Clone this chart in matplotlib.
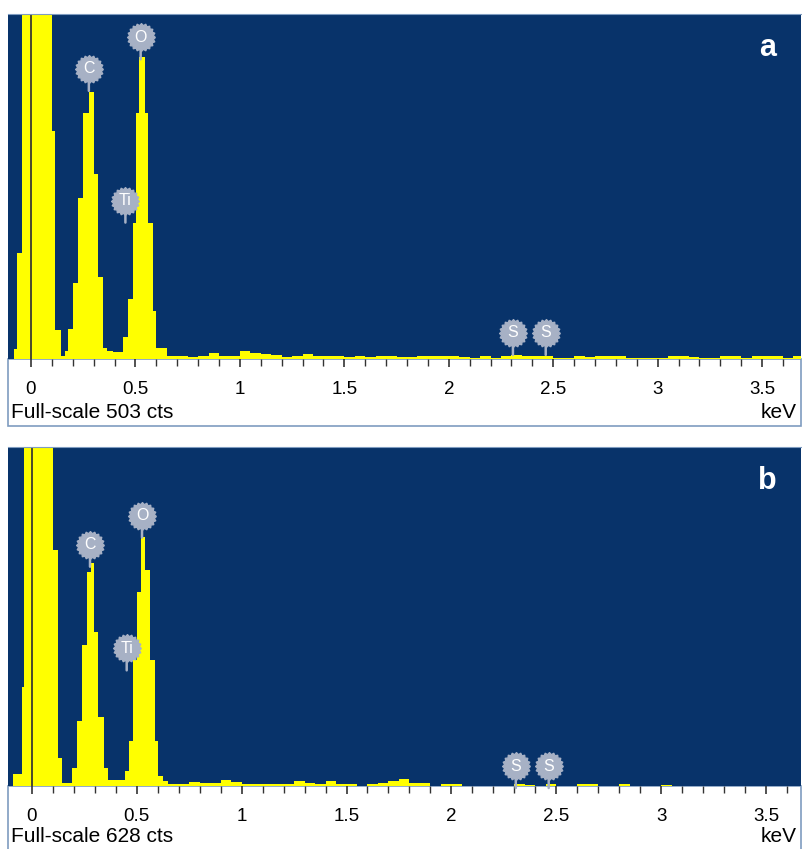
"""EDS spectra (panels a and b) redrawn as step histograms."""

import numpy as np
import matplotlib
matplotlib.use("Agg")
import matplotlib.pyplot as plt
from matplotlib.patches import Rectangle

plt.rcParams['font.family'] = ['Liberation Sans', 'DejaVu Sans']

# ---- panel a: peak region (bin edges in keV, counts per bin) ----
a_peak_edges = [-0.081, -0.067, -0.043, 0.101, 0.115, 0.144, 0.163, 0.177, 0.201,
                0.225, 0.249, 0.278, 0.302, 0.321, 0.345, 0.364, 0.393, 0.440,
                0.464, 0.488, 0.503, 0.517, 0.546, 0.560, 0.584, 0.598, 0.650]
a_peak_counts = [15, 155, 2000, 332, 42, 4, 12, 44, 111,
                 235, 358, 390, 270, 120, 16, 12, 10, 32,
                 88, 199, 358, 440, 358, 199, 70, 16]
# tail, 0.05 keV bins from 0.65 keV
a_tail_counts = [4, 4, 3, 4, 9, 4, 4, 11, 9, 7,
                 6, 3, 4, 8, 5, 4, 4, 3, 5, 3,
                 5, 5, 3, 3, 5, 5, 4, 5, 3, 2,
                 4, 2, 5, 6, 4, 4, 4, 2, 2, 4,
                 3, 4, 4, 4, 2, 1, 1, 1, 4, 4,
                 3, 1, 2, 4, 4, 2, 4, 4, 4, 2, 4]
a_full_scale = 503

# ---- panel b ----
b_peak_edges = [-0.091, -0.048, -0.038, 0.100, 0.124, 0.143, 0.191, 0.215, 0.238,
                0.262, 0.281, 0.296, 0.315, 0.343, 0.362, 0.443, 0.463, 0.482,
                0.501, 0.520, 0.539, 0.563, 0.587, 0.601, 0.625, 0.650]
b_peak_counts = [22, 183, 3000, 438, 52, 6, 34, 121,
                 261, 397, 414, 285, 127, 34, 11, 28, 84,
                 233, 360, 462, 400, 233, 84, 19, 9]
b_tail_counts = [4, 4, 7, 5, 5, 11, 8, 4, 4, 4,
                 3, 4, 9, 5, 4, 9, 4, 4, 0, 4,
                 5, 9, 13, 5, 5, 0, 3, 3, 0, 0,
                 0, 0, 0, 3, 2, 0, 3, 0, 0, 3,
                 3, 0, 0, 3, 0, 0, 0, 2, 0, 0,
                 0, 0, 0, 0, 0, 0, 0, 0, 0, 0, 0]
b_full_scale = 628

TAIL_START, TAIL_BIN = 0.65, 0.05

# element markers: symbol, line energy (keV), label height (cts)
elements = ["C", "O", "Ti", "S", "S"]
element_kev = [0.277, 0.525, 0.452, 2.307, 2.464]
a_label_cts = [423, 469, 231, 38, 38]
b_label_cts = [447, 501, 255, 37, 37]

BG = "#08336a"
YELLOW = "#ffff00"
BADGE = "#a7b1c5"
FRAME = "#7f9cc0"

W, H = 802, 849
fig = plt.figure(figsize=(W / 100, H / 100), dpi=100)

# gear-shaped badge marker
ang = np.linspace(0, 2 * np.pi, 41)
rad = np.where(np.arange(41) % 2 == 0, 1.0, 0.86)
gear = np.column_stack([rad * np.cos(ang), rad * np.sin(ang)])


def fig_box(x0, y0, x1, y1):
    """pixel box (top-left origin) -> figure fraction rect"""
    return [x0 / W, 1 - y1 / H, (x1 - x0) / W, (y1 - y0) / H]


def draw_panel(plot_px, strip_px, text_y, peak_edges, peak_counts, tail_counts,
               full_scale, label_cts, xlim, letter, fs_text):
    # white axis strip with thin frame
    sx0, sy0, sx1, sy1 = strip_px
    fig.patches.append(Rectangle((sx0 / W, 1 - sy1 / H), (sx1 - sx0) / W, (sy1 - sy0) / H,
                                 transform=fig.transFigure, facecolor="white",
                                 edgecolor=FRAME, lw=1.2, zorder=-1))

    ax = fig.add_axes(fig_box(*plot_px))
    ax.set_facecolor(BG)

    tail_edges = [TAIL_START + TAIL_BIN * (i + 1) for i in range(len(tail_counts))]
    edges = list(peak_edges) + tail_edges
    counts = list(peak_counts) + list(tail_counts)
    ax.stairs(counts, edges, fill=True, color=YELLOW, lw=0)
    ax.axvline(0, color="#3b3b30", lw=1.3)

    ax.set_xlim(*xlim)
    ax.set_ylim(0, full_scale)
    ax.set_yticks([])
    ax.set_xticks(np.arange(0, 3.6, 0.5))
    ax.set_xticklabels(["0", "0.5", "1", "1.5", "2", "2.5", "3", "3.5"])
    ax.set_xticks(np.arange(0, 3.7, 0.1), minor=True)
    ax.tick_params(axis="x", which="major", direction="out", length=6, width=1.2,
                   color="#333333", labelsize=13.5, pad=9.5)
    ax.tick_params(axis="x", which="minor", direction="out", length=5, width=1.0,
                   color="#333333")
    for s in ["left", "right", "bottom"]:
        ax.spines[s].set_visible(False)
    ax.spines["top"].set_color(FRAME)

    for sym, kev, yc in zip(elements, element_kev, label_cts):
        ax.annotate("", xy=(kev, yc), xytext=(0, -22), textcoords="offset pixels",
                    arrowprops=dict(arrowstyle="-", color=BADGE, lw=1.8,
                                    shrinkA=0, shrinkB=0))
        ax.plot(kev, yc, marker=gear, ms=20, color=BADGE, mec=BADGE, zorder=5)
        ax.text(kev, yc, sym, color="white", fontsize=11.5, ha="center",
                va="center", zorder=6)

    ax.text(0.958, 0.9, letter, transform=ax.transAxes, color="white",
            fontsize=22, fontweight="bold", ha="center", va="center")

    fig.text((sx0 + 3) / W, 1 - text_y / H, fs_text, fontsize=15,
             ha="left", va="center")
    fig.text((sx1 - 4) / W, 1 - text_y / H, "keV", fontsize=15,
             ha="right", va="center")
    return ax


draw_panel((8, 14, 801, 359), (8, 359, 801, 426), 412, a_peak_edges, a_peak_counts,
           a_tail_counts, a_full_scale, a_label_cts, (-0.110, 3.686), "a",
           "Full-scale %d cts" % a_full_scale)
draw_panel((8, 447, 801, 786), (8, 786, 801, 857), 837, b_peak_edges, b_peak_counts,
           b_tail_counts, b_full_scale, b_label_cts, (-0.114, 3.667), "b",
           "Full-scale %d cts" % b_full_scale)

fig.savefig("out.png", dpi=100)
